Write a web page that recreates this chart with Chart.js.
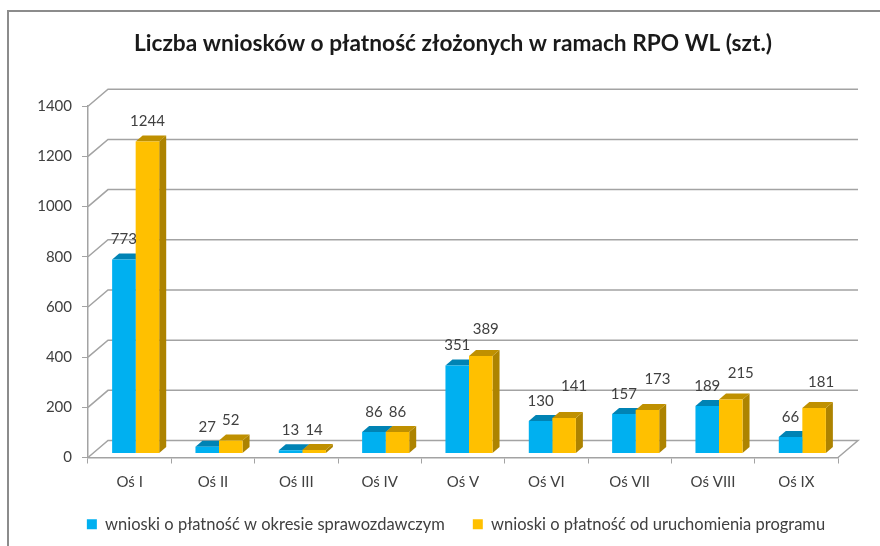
<!DOCTYPE html>
<html>
<head>
<meta charset="utf-8">
<style>
html,body{margin:0;padding:0;background:#fff;}
canvas{display:block;filter:blur(0.5px);}
</style>
<script src="https://cdn.jsdelivr.net/npm/chart.js@4"></script>
</head>
<body>
<canvas id="chart" width="880" height="546"></canvas>
<script>
var categories = ['Oś I','Oś II','Oś III','Oś IV','Oś V','Oś VI','Oś VII','Oś VIII','Oś IX'];
var okres = [773,27,13,86,351,130,157,189,66];
var program = [1244,52,14,86,389,141,173,215,181];
var yTicks = [0,200,400,600,800,1000,1200,1400];

var FONT = 'Lato, "Open Sans", sans-serif';
var TXT = '#404040';
var GRID = '#a3a3a3';
// where the 3d look sits relative to the axes
var WALL = {x:20, y:-17};
var BAR_SHIFT = {x:6, y:-4};
var DEPTH = {x:7, y:-6};
// excel moved a few of the orange labels by hand
var programNudge = [[0,0],[0,0],[0,0],[0,0],[5,-7],[10,-12],[10,-11],[10,-6],[7,-6]];

var depthColors = [
  {top:'#0083B4', side:'#0083B4'},
  {top:'#BF9000', side:'#AD8300'}
];

function poly(ctx, pts, color){
  ctx.fillStyle = color;
  ctx.beginPath();
  ctx.moveTo(pts[0][0], pts[0][1]);
  for(var i=1;i<pts.length;i++){ ctx.lineTo(pts[i][0], pts[i][1]); }
  ctx.closePath();
  ctx.fill();
}

var box3d = {
  id:'box3d',
  afterLayout:function(chart){
    // title and legend are not centred on the canvas in the original
    chart.titleBlock.left += 34; chart.titleBlock.right += 34;
    chart.legend.left += 37; chart.legend.right += 37;
    chart.legend.top = 488; chart.legend.bottom = 546;
  },
  beforeDraw:function(chart){
    var ctx = chart.ctx;
    ctx.save();
    ctx.strokeStyle = '#8c8c8c';
    ctx.lineWidth = 2;
    ctx.beginPath();
    ctx.moveTo(8,546); ctx.lineTo(8,11); ctx.lineTo(880,11);
    ctx.stroke();
    ctx.restore();
  },
  beforeDatasetsDraw:function(chart){
    var ctx = chart.ctx, y = chart.scales.y, a = chart.chartArea;
    ctx.save();
    ctx.strokeStyle = GRID;
    ctx.lineWidth = 1.5;
    for(var i=0;i<yTicks.length;i++){
      var py = y.getPixelForValue(yTicks[i]);
      ctx.beginPath();
      ctx.moveTo(a.left, py);
      ctx.lineTo(a.left+WALL.x, py+WALL.y);
      ctx.lineTo(a.right+WALL.x, py+WALL.y);
      if(yTicks[i]===0){ ctx.lineTo(a.right, py); }
      ctx.stroke();
    }
    ctx.restore();

    // sides and tops go first, the fronts are painted over them
    ctx.save();
    ctx.translate(BAR_SHIFT.x, BAR_SHIFT.y);
    for(var d=0;d<2;d++){
      var bars = chart.getDatasetMeta(d).data;
      for(var k=0;k<bars.length;k++){
        var b = bars[k], l = b.x-b.width/2, r = b.x+b.width/2;
        poly(ctx, [[r,b.y],[r+DEPTH.x,b.y+DEPTH.y],[r+DEPTH.x,b.base+DEPTH.y],[r,b.base]], depthColors[d].side);
        poly(ctx, [[l,b.y],[l+DEPTH.x,b.y+DEPTH.y],[r+DEPTH.x,b.y+DEPTH.y],[r,b.y]], depthColors[d].top);
      }
    }
  },
  afterDatasetsDraw:function(chart){
    var ctx = chart.ctx;
    ctx.restore();
    ctx.save();
    ctx.fillStyle = TXT;
    ctx.font = '15px '+FONT;
    ctx.textAlign = 'center';
    ctx.textBaseline = 'middle';
    for(var d=0;d<2;d++){
      var bars = chart.getDatasetMeta(d).data;
      var vals = chart.data.datasets[d].data;
      for(var k=0;k<bars.length;k++){
        var n = d===1 ? programNudge[k] : [0,0];
        ctx.fillText(vals[k], bars[k].x+BAR_SHIFT.x+n[0], bars[k].y+BAR_SHIFT.y-20+n[1]);
      }
    }
    ctx.restore();
  }
};

new Chart(document.getElementById('chart').getContext('2d'), {
  type:'bar',
  data:{
    labels:categories,
    datasets:[
      {label:'wnioski o płatność w okresie sprawozdawczym', data:okres, backgroundColor:'#00B0F0'},
      {label:'wnioski o płatność od uruchomienia programu', data:program, backgroundColor:'#FFC000'}
    ]
  },
  options:{
    responsive:false,
    animation:false,
    layout:{padding:{left:0,right:42,top:0,bottom:0}},
    datasets:{bar:{categoryPercentage:0.565, barPercentage:1}},
    plugins:{
      tooltip:{enabled:false},
      title:{
        display:true,
        text:'Liczba wniosków o płatność złożonych w ramach RPO WL (szt.)',
        color:'#1a1a1a',
        font:{family:FONT, size:22.7, weight:'bold'},
        padding:{top:30, bottom:49}
      },
      legend:{
        position:'bottom',
        labels:{
          color:TXT,
          font:{family:FONT, size:16.5},
          boxWidth:10, boxHeight:10,
          padding:28
        }
      }
    },
    scales:{
      x:{
        afterFit:function(s){ s.height = 34; },
        grid:{drawOnChartArea:false, color:GRID, tickLength:6},
        border:{color:GRID, width:1.5},
        ticks:{color:TXT, font:{family:FONT, size:15}, padding:10, maxRotation:0}
      },
      y:{
        min:0, max:1400,
        afterBuildTicks:function(s){ s.ticks = yTicks.map(function(v){ return {value:v}; }); },
        afterFit:function(s){ s.width = 88; },
        grid:{drawOnChartArea:false, color:GRID, tickLength:6},
        border:{color:GRID, width:1.5},
        ticks:{color:TXT, font:{family:FONT, size:15}, padding:10, callback:function(v){ return String(v); }}
      }
    }
  },
  plugins:[box3d]
});
</script>
</body>
</html>
